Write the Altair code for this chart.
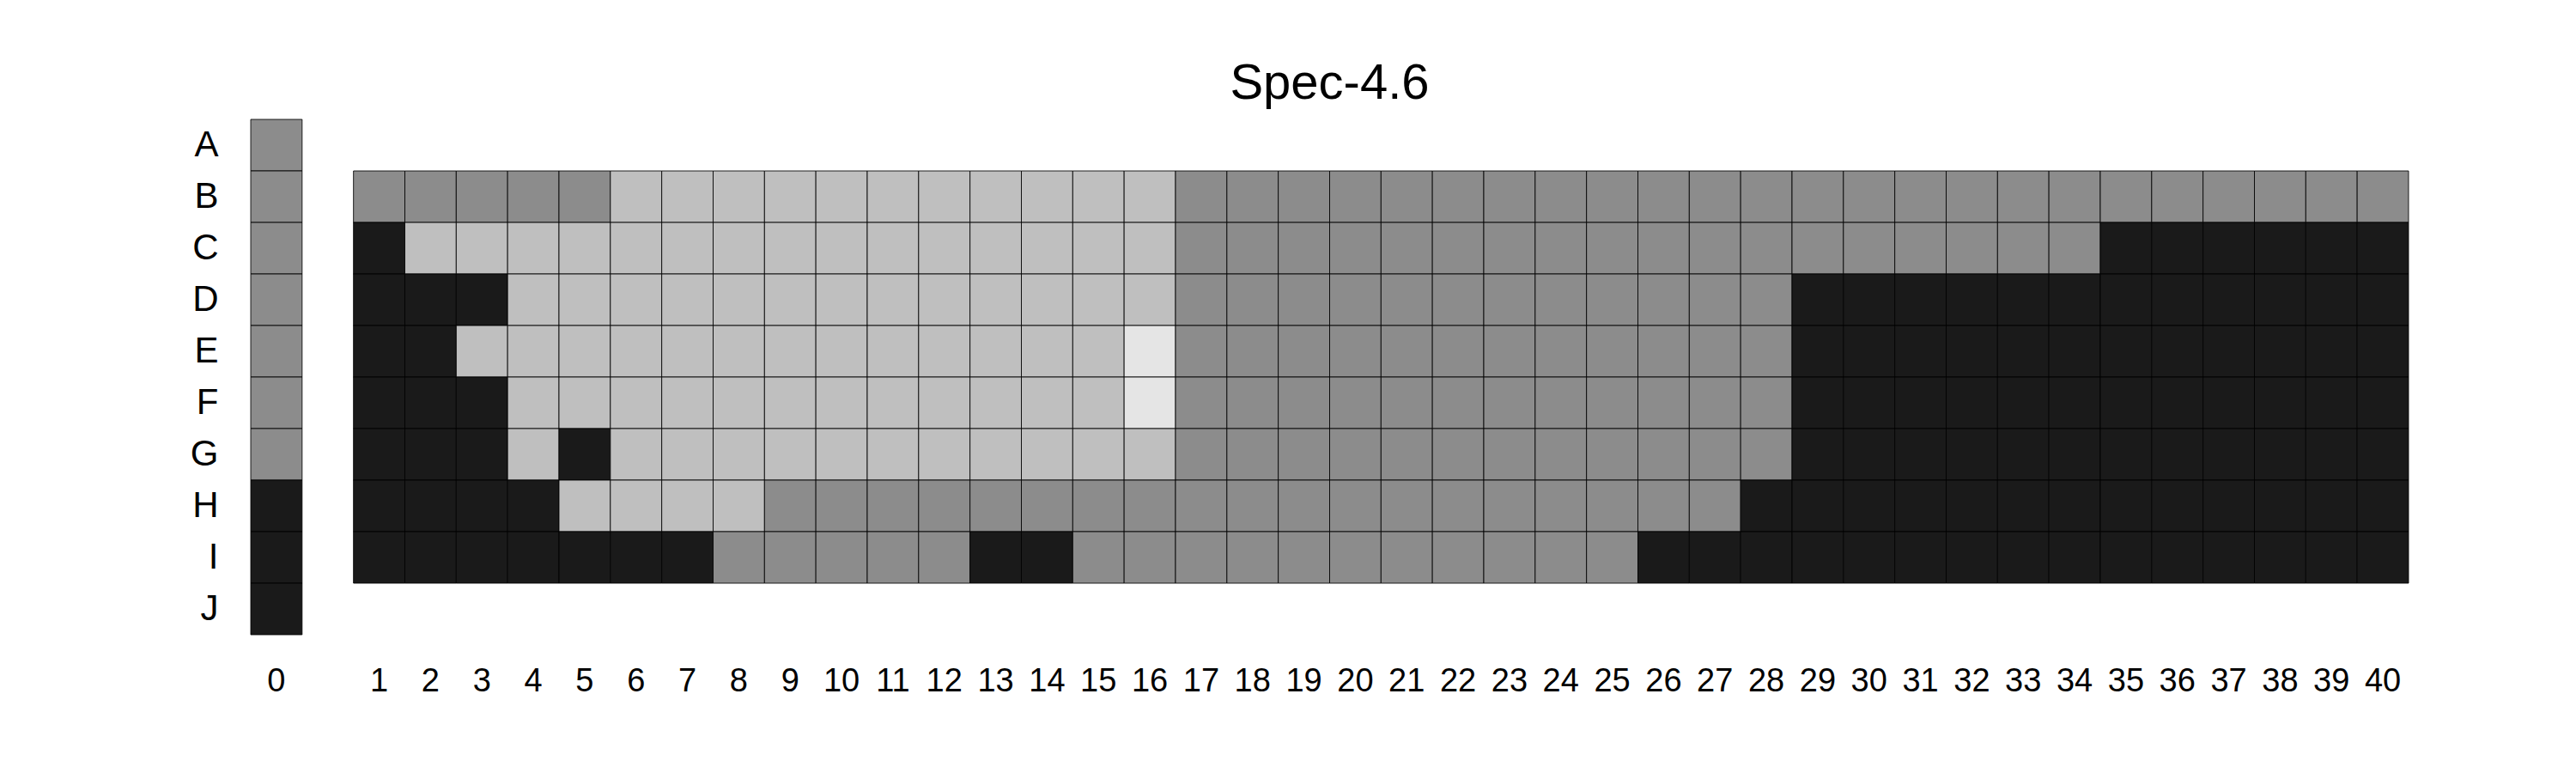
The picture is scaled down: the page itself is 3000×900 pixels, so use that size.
import altair as alt
import pandas as pd

rows = ["A", "B", "C", "D", "E", "F", "G", "H", "I", "J"]
grid_rows = ["B", "C", "D", "E", "F", "G", "H", "I"]
columns = [str(c) for c in range(1, 41)]
x_domain = ["0", "gap"] + columns

# level codes: 0 = dark, 1 = medium grey, 2 = light grey, 3 = very light grey
col0 = [1, 1, 1, 1, 1, 1, 1, 0, 0, 0]

row_B = [1, 1, 1, 1, 1, 2, 2, 2, 2, 2, 2, 2, 2, 2, 2, 2, 1, 1, 1, 1,
         1, 1, 1, 1, 1, 1, 1, 1, 1, 1, 1, 1, 1, 1, 1, 1, 1, 1, 1, 1]
row_C = [0, 2, 2, 2, 2, 2, 2, 2, 2, 2, 2, 2, 2, 2, 2, 2, 1, 1, 1, 1,
         1, 1, 1, 1, 1, 1, 1, 1, 1, 1, 1, 1, 1, 1, 0, 0, 0, 0, 0, 0]
row_D = [0, 0, 0, 2, 2, 2, 2, 2, 2, 2, 2, 2, 2, 2, 2, 2, 1, 1, 1, 1,
         1, 1, 1, 1, 1, 1, 1, 1, 0, 0, 0, 0, 0, 0, 0, 0, 0, 0, 0, 0]
row_E = [0, 0, 2, 2, 2, 2, 2, 2, 2, 2, 2, 2, 2, 2, 2, 3, 1, 1, 1, 1,
         1, 1, 1, 1, 1, 1, 1, 1, 0, 0, 0, 0, 0, 0, 0, 0, 0, 0, 0, 0]
row_F = [0, 0, 0, 2, 2, 2, 2, 2, 2, 2, 2, 2, 2, 2, 2, 3, 1, 1, 1, 1,
         1, 1, 1, 1, 1, 1, 1, 1, 0, 0, 0, 0, 0, 0, 0, 0, 0, 0, 0, 0]
row_G = [0, 0, 0, 2, 0, 2, 2, 2, 2, 2, 2, 2, 2, 2, 2, 2, 1, 1, 1, 1,
         1, 1, 1, 1, 1, 1, 1, 1, 0, 0, 0, 0, 0, 0, 0, 0, 0, 0, 0, 0]
row_H = [0, 0, 0, 0, 2, 2, 2, 2, 1, 1, 1, 1, 1, 1, 1, 1, 1, 1, 1, 1,
         1, 1, 1, 1, 1, 1, 1, 0, 0, 0, 0, 0, 0, 0, 0, 0, 0, 0, 0, 0]
row_I = [0, 0, 0, 0, 0, 0, 0, 1, 1, 1, 1, 1, 0, 0, 1, 1, 1, 1, 1, 1,
         1, 1, 1, 1, 1, 0, 0, 0, 0, 0, 0, 0, 0, 0, 0, 0, 0, 0, 0, 0]

grid_values = [row_B, row_C, row_D, row_E, row_F, row_G, row_H, row_I]

level_codes = [0, 1, 2, 3]
level_colors = ["#1a1a1a", "#8c8c8c", "#bfbfbf", "#e5e5e5"]

records = []
for r, v in zip(rows, col0):
    records.append({"x": "0", "y": r, "v": v})
for r, vals in zip(grid_rows, grid_values):
    for c, v in zip(columns, vals):
        records.append({"x": c, "y": r, "v": v})
df = pd.DataFrame(records)

FONT = "Liberation Sans"

chart = alt.Chart(df).mark_rect(stroke="black", strokeWidth=1, strokeOpacity=0.85).encode(
    x=alt.X("x:N",
            scale=alt.Scale(domain=x_domain, paddingInner=0, paddingOuter=0),
            axis=alt.Axis(title=None, labelAngle=0, ticks=False, domain=False, grid=False,
                          labelFontSize=38, labelFont=FONT, labelColor="black",
                          labelPadding=35, labelOverlap=False,
                          labelExpr="datum.value == 'gap' ? '' : datum.value")),
    y=alt.Y("y:N",
            scale=alt.Scale(domain=rows, paddingInner=0, paddingOuter=0),
            axis=alt.Axis(title=None, ticks=False, domain=False, grid=False,
                          labelFontSize=42, labelFont=FONT, labelColor="black",
                          labelPadding=38)),
    color=alt.Color("v:O", scale=alt.Scale(domain=level_codes, range=level_colors), legend=None),
).properties(
    width=2513,
    height=600,
    title=alt.Title("Spec-4.6", fontSize=58, font=FONT, fontWeight="normal",
                    color="black", anchor="middle", offset=12),
    autosize=alt.AutoSizeParams(type="none"),
    padding={"left": 284, "top": 131, "right": 180, "bottom": 100},
).configure_view(stroke=None)

chart.save("out.html", embed_options={"renderer": "svg", "actions": False})
